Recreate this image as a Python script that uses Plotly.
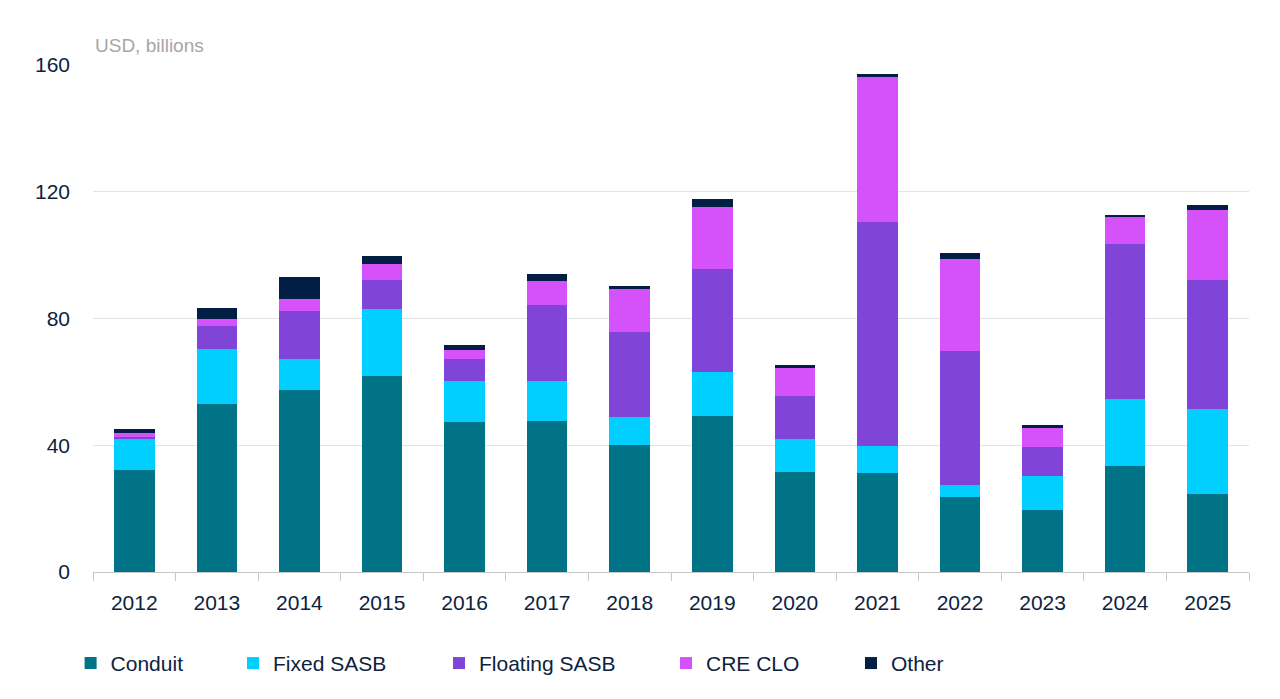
import plotly.graph_objects as go

years = ["2012", "2013", "2014", "2015", "2016", "2017", "2018", "2019",
         "2020", "2021", "2022", "2023", "2024", "2025"]
conduit = [32.1, 53.1, 57.3, 61.9, 47.4, 47.8, 40.2, 49.3, 31.5, 31.3, 23.6, 19.7, 33.4, 24.5]
fixed_sasb = [9.8, 17.4, 9.9, 21.0, 12.8, 12.4, 8.8, 13.9, 10.5, 8.6, 3.9, 10.5, 21.2, 27.0]
floating_sasb = [0.7, 7.0, 15.3, 9.3, 7.0, 24.1, 26.6, 32.3, 13.5, 70.6, 42.3, 9.1, 49.0, 40.6]
cre_clo = [1.2, 2.4, 3.6, 5.1, 2.9, 7.6, 14.0, 19.6, 8.9, 45.8, 28.9, 6.0, 8.3, 22.0]
other = [1.4, 3.4, 7.0, 2.5, 1.5, 2.1, 0.6, 2.6, 0.9, 0.9, 1.9, 1.1, 0.8, 1.7]

y_ticks = [0, 40, 80, 120, 160]

series = [
    ("Conduit", conduit, "#017386", "legend"),
    ("Fixed SASB", fixed_sasb, "#00CFFF", "legend2"),
    ("Floating SASB", floating_sasb, "#8045D8", "legend3"),
    ("CRE CLO", cre_clo, "#D552FA", "legend4"),
    ("Other", other, "#021E45", "legend5"),
]

FONT = "Liberation Sans, Arial, sans-serif"
TXT = "#0C2340"
OFF = 8  # page body margin offset

fig = go.Figure()
for name, vals, color, lg in series:
    fig.add_trace(go.Bar(x=years, y=vals, name=name, marker_color=color,
                         marker_line_width=0, legend=lg))

# plot area in screen px: x 93..1249, y 65..572.5
L, R, T, B = 93 - OFF, 31, 65 - OFF, 126.5
FW, FH = 1280 - OFF, 699 - OFF
W = FW - L - R
H = FH - T - B
text_starts = [111.6, 274, 480, 707, 892]
legend_y = (572.5 - 664) / H
legends = {}
for i, xs in enumerate(text_starts):
    key = "legend" if i == 0 else f"legend{i+1}"
    legends[key] = dict(x=(xs - 41 - 93) / W, xanchor="left", y=legend_y, yanchor="middle",
                        orientation="h", font=dict(family=FONT, size=21, color=TXT),
                        bgcolor="rgba(0,0,0,0)", itemclick=False)

fig.update_layout(
    width=FW, height=FH,
    margin=dict(l=L, r=R, t=T, b=B, autoexpand=False),
    barmode="stack", bargap=0.51,
    showlegend=True,
    plot_bgcolor="white", paper_bgcolor="white",
    font=dict(family=FONT, color=TXT, size=21),
    **legends,
    xaxis=dict(type="category", tickson="boundaries", ticks="outside", ticklen=8,
               tickcolor="#C8C8C8", showline=True, linecolor="#C8C8C8", linewidth=1,
               tickfont=dict(family=FONT, size=21, color=TXT), ticklabelstandoff=12,
               showgrid=False),
    yaxis=dict(range=[0, 160], tickvals=y_ticks, showgrid=True, gridcolor="#E3E3E3",
               gridwidth=1, zeroline=False, showline=False, ticks="",
               tickfont=dict(family=FONT, size=21, color=TXT), ticklabelstandoff=22),
    annotations=[dict(text="USD, billions", xref="paper", yref="paper", x=0, y=1,
                      xanchor="left", yanchor="bottom", yshift=7, showarrow=False,
                      font=dict(family=FONT, size=19, color="#A6A6A6"))],
)

fig.write_html("out.html")
